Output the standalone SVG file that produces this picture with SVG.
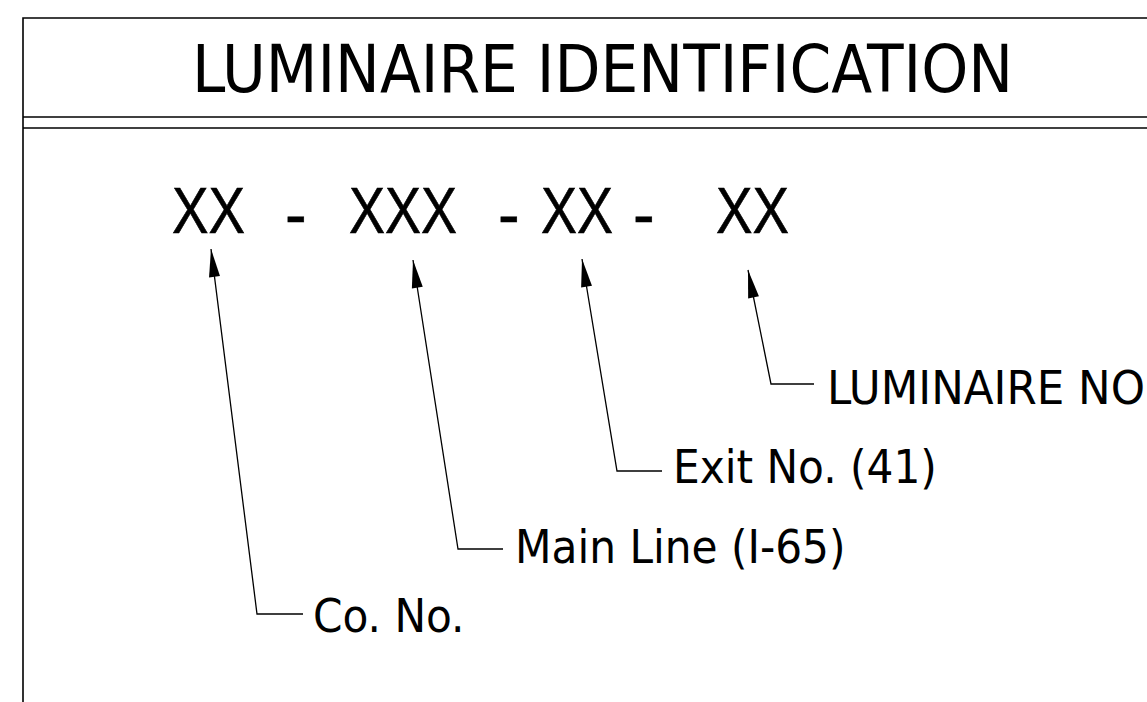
<svg xmlns="http://www.w3.org/2000/svg" width="1147" height="702" viewBox="0 0 1147 702">
<style>
.frame{fill:none;stroke:#000;stroke-width:1.6}
.lead{fill:none;stroke:#000;stroke-width:1.3}
.title{font-family:"DejaVu Sans Condensed","DejaVu Sans",sans-serif;font-size:66px;fill:#000}
.code{font-family:"Liberation Sans",Arial,sans-serif;font-size:65px;fill:#000;stroke:#000;stroke-width:0.6}
.label{font-family:"DejaVu Sans Condensed","DejaVu Sans",sans-serif;font-size:47px;fill:#000}
</style>
<defs>
<marker id="ah" markerUnits="userSpaceOnUse" markerWidth="40" markerHeight="20" viewBox="-30 -10 40 20" refX="0" refY="0" orient="auto-start-reverse">
<path d="M0,0 L-28,-5.5 L-28,5.5 Z" fill="#000"/>
</marker>
</defs>
<rect width="1147" height="702" fill="#fff"/>
<g id="frame">
<path class="frame" d="M23,702 V18 H1147"/>
<line class="frame" x1="23" y1="117" x2="1147" y2="117"/>
<line class="frame" x1="23" y1="128" x2="1147" y2="128"/>
<text id="title" class="title" x="192" y="92" textLength="821" lengthAdjust="spacingAndGlyphs">LUMINAIRE IDENTIFICATION</text>
</g>
<g id="code">
<text class="code" x="172" y="233" textLength="73" lengthAdjust="spacingAndGlyphs">XX</text>
<text class="code" x="285" y="237">-</text>
<text class="code" x="349" y="233" textLength="108" lengthAdjust="spacingAndGlyphs">XXX</text>
<text class="code" x="498" y="237">-</text>
<text class="code" x="541" y="233" textLength="72" lengthAdjust="spacingAndGlyphs">XX</text>
<text class="code" x="633" y="237">-</text>
<text class="code" x="716" y="233" textLength="73" lengthAdjust="spacingAndGlyphs">XX</text>
</g>
<g id="connectors">
<polyline class="lead" marker-start="url(#ah)" points="211,249 257,614 303,614"/>
<polyline class="lead" marker-start="url(#ah)" points="413,260 458,549 503,549"/>
<polyline class="lead" marker-start="url(#ah)" points="582,259 617,471 662,471"/>
<polyline class="lead" marker-start="url(#ah)" points="748,270 771,384 814,384"/>
</g>
<g id="label-co"><text class="label" x="313" y="632">Co. No.</text></g>
<g id="label-main"><text class="label" x="515" y="563">Main Line (I-65)</text></g>
<g id="label-exit"><text class="label" x="673" y="483">Exit No. (41)</text></g>
<g id="label-lum"><text class="label" x="827" y="404" textLength="318" lengthAdjust="spacingAndGlyphs">LUMINAIRE NO</text></g>
</svg>
